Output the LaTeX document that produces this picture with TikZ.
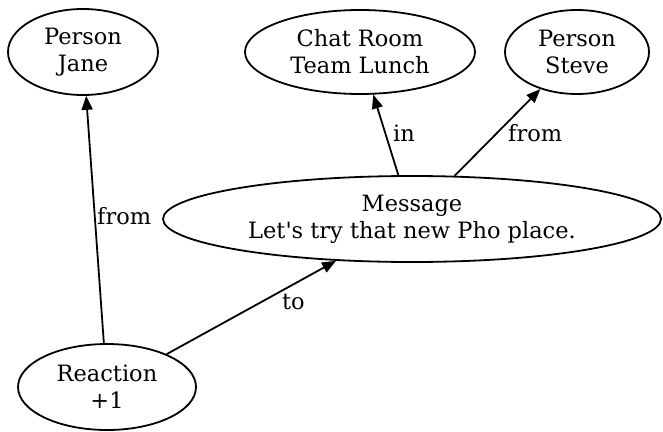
\documentclass[tikz,border=0pt]{standalone}
\usepackage{fontspec}
\setmainfont{DejaVu Serif}
\usetikzlibrary{shapes.geometric,arrows.meta}
\begin{document}
\begin{tikzpicture}[x=1pt,y=-1pt,
  ent/.style={ellipse,draw,line width=1.8pt,inner sep=0pt,align=center,
    font=\fontsize{22.5}{27}\selectfont},
  rel/.style={line width=1.8pt,-{Triangle[length=14pt,width=11pt]}},
  lbl/.style={anchor=west,inner sep=0pt,font=\fontsize{22.5}{27}\selectfont}]
  \useasboundingbox (0,0) rectangle (663,431);

  % entities
  \node[ent,minimum width=150pt,minimum height=86pt] (jane)  at (83,52)  {Person\\Jane};
  \node[ent,minimum width=230pt,minimum height=84pt] (room)  at (360,52) {Chat Room\\Team Lunch};
  \node[ent,minimum width=144pt,minimum height=84pt] (steve) at (577,52) {Person\\Steve};
  \node[ent,minimum width=498pt,minimum height=86pt] (msg)   at (412,219) {Message\\Let\textquotesingle s try that new Pho place.};
  \node[ent,minimum width=178pt,minimum height=86pt] (react) at (107,387) {Reaction\\+1};

  % relations
  \draw[rel] (react) -- (jane);
  \draw[rel] (react) -- (msg);
  \draw[rel] (msg) -- (room);
  \draw[rel] (msg) -- (steve);

  % relation labels
  \node[lbl] (lfrom1) at (97,216)  {from};
  \node[lbl] (lto)    at (282,302) {to};
  \node[lbl] (lin)    at (393,133) {in};
  \node[lbl] (lfrom2) at (508,133) {from};
\end{tikzpicture}
\end{document}
